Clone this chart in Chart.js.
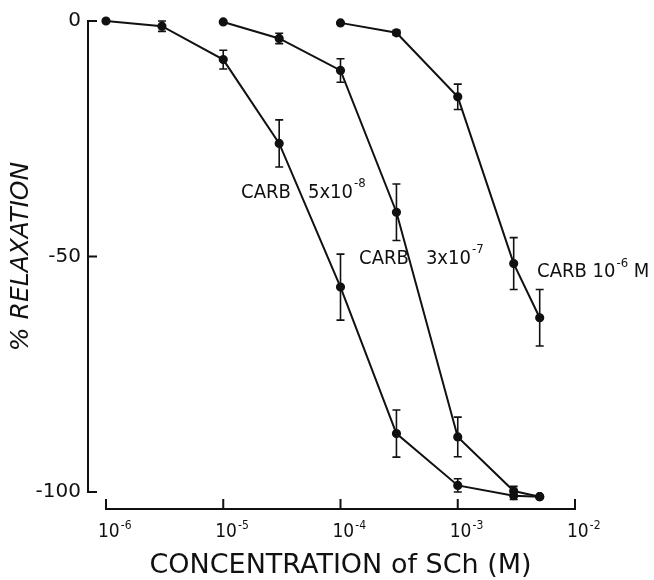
<!DOCTYPE html>
<html>
<head>
<meta charset="utf-8">
<script src="https://cdn.jsdelivr.net/npm/chart.js@4/dist/chart.umd.min.js"></script>
<style>
    html, body { margin: 0; padding: 0; background: #fff; }
    #wrap { width: 654px; height: 580px; position: relative; }
</style>
</head>
<body>
<div id="wrap"><canvas id="chart"></canvas></div>
<script>
// Concentration of SCh (M) and % relaxation, one set per CARB level
const conc1 = [1e-6, 3e-6, 1e-5, 3e-5, 1e-4, 3e-4, 1e-3, 3e-3, 5e-3];
const relax1 = [0, -1.1, -8.2, -26, -56.5, -87.6, -98.6, -100.8, -101];
const err1 = [0, 1.1, 2, 5, 7, 5, 1.4, 0.8, 0];

const conc2 = [1e-5, 3e-5, 1e-4, 3e-4, 1e-3, 3e-3, 5e-3];
const relax2 = [-0.2, -3.7, -10.5, -40.6, -88.3, -99.8, -101];
const err2 = [0, 1.1, 2.5, 6, 4.2, 1, 0];

const conc3 = [1e-4, 3e-4, 1e-3, 3e-3, 5e-3];
const relax3 = [-0.4, -2.5, -16.1, -51.5, -63];
const err3 = [0, 0.5, 2.7, 5.5, 6];

const xTicks = [1e-6, 1e-5, 1e-4, 1e-3, 1e-2];
const yTicks = [0, -50, -100];
// [text, superscript, tail]
const notes = [['CARB   5x10', '-8', ''], ['CARB   3x10', '-7', ''], ['CARB 10', '-6', ' M']];

const INK = '#111';
const FONT = "'DejaVu Sans', sans-serif";
const COND = "'DejaVu Sans Condensed', 'DejaVu Sans', sans-serif";

function toPoints(xs, ys) {
    return xs.map((x, i) => ({ x: x, y: ys[i] }));
}

function makeSet(xs, ys, errs) {
    return {
        data: toPoints(xs, ys),
        errs: errs,
        borderColor: INK,
        backgroundColor: INK,
        borderWidth: 2,
        pointRadius: 3.6,
        pointHoverRadius: 3.6,
        tension: 0,
        clip: false
    };
}

// draw text with a raised small part
function supText(ctx, x, y, base, sup, tail, size) {
    ctx.font = size + 'px ' + COND;
    ctx.fillText(base, x, y);
    x += ctx.measureText(base).width + 1;
    ctx.font = Math.round(size * 0.65) + 'px ' + COND;
    ctx.fillText(sup, x, y - size * 0.42);
    x += ctx.measureText(sup).width;
    if (tail) {
        ctx.font = size + 'px ' + COND;
        ctx.fillText(tail, x, y);
    }
}

const paperPlugin = {
    id: 'paper',
    afterDatasetsDraw(chart) {
        const ctx = chart.ctx;
        const xs = chart.scales.x;
        const ys = chart.scales.y;
        ctx.save();
        ctx.strokeStyle = INK;
        ctx.fillStyle = INK;

        // error bars
        ctx.lineWidth = 1.6;
        chart.data.datasets.forEach(ds => {
            ds.data.forEach((p, i) => {
                const e = ds.errs[i];
                if (!e) return;
                const px = xs.getPixelForValue(p.x);
                const y1 = ys.getPixelForValue(p.y + e);
                const y2 = ys.getPixelForValue(p.y - e);
                ctx.beginPath();
                ctx.moveTo(px, y1); ctx.lineTo(px, y2);
                ctx.moveTo(px - 4, y1); ctx.lineTo(px + 4, y1);
                ctx.moveTo(px - 4, y2); ctx.lineTo(px + 4, y2);
                ctx.stroke();
            });
        });

        // detached axes like the original figure
        ctx.lineWidth = 2;
        const axX = xs.left - 18;
        const axY = ys.bottom + 17;
        ctx.beginPath();
        ctx.moveTo(axX, ys.getPixelForValue(0));
        ctx.lineTo(axX, ys.getPixelForValue(-100));
        yTicks.forEach(v => {
            const py = ys.getPixelForValue(v);
            ctx.moveTo(axX - 1, py); ctx.lineTo(axX + 9, py);
        });
        ctx.moveTo(xs.getPixelForValue(1e-6), axY);
        ctx.lineTo(xs.getPixelForValue(1e-2), axY);
        xs.ticks.forEach(t => {
            const px = xs.getPixelForValue(t.value);
            ctx.moveTo(px, axY + 1); ctx.lineTo(px, axY - 10);
        });
        ctx.stroke();

        // x tick labels 10^-n
        ctx.textBaseline = 'alphabetic';
        ctx.textAlign = 'left';
        xs.ticks.forEach(t => {
            const px = xs.getPixelForValue(t.value);
            const n = Math.round(Math.log10(t.value));
            supText(ctx, px - 8, axY + 28, '10', String(n), '', 19);
        });

        // curve labels
        const anchors = [[1.42e-5, -36.4], [1.44e-4, -50.4], [4.75e-3, -53.3]];
        ctx.textBaseline = 'middle';
        notes.forEach((n, i) => {
            const px = xs.getPixelForValue(anchors[i][0]);
            const py = ys.getPixelForValue(anchors[i][1]);
            supText(ctx, px, py, n[0], n[1], n[2], 20);
        });
        ctx.restore();
    }
};

new Chart(document.getElementById('chart'), {
    type: 'line',
    data: {
        datasets: [makeSet(conc1, relax1, err1), makeSet(conc2, relax2, err2), makeSet(conc3, relax3, err3)]
    },
    options: {
        responsive: true,
        maintainAspectRatio: false,
        animation: false,
        events: [],
        layout: { padding: { top: 21, right: 79, left: 0, bottom: 0 }, autoPadding: false },
        plugins: {
            legend: { display: false },
            tooltip: { enabled: false }
        },
        scales: {
            x: {
                type: 'logarithmic',
                min: 1e-6,
                max: 1e-2,
                afterBuildTicks: s => { s.ticks = xTicks.map(v => ({ value: v })); },
                afterFit: s => { s.height = 88; s.paddingLeft = 0; s.paddingRight = 0; },
                grid: { display: false, drawTicks: false },
                border: { display: false },
                ticks: { display: false },
                title: {
                    display: true,
                    text: 'CONCENTRATION of SCh (M)',
                    color: INK,
                    font: { family: FONT, size: 27, lineHeight: 1 },
                    padding: { top: 0, bottom: 1 }
                }
            },
            y: {
                min: -100,
                max: 0,
                afterBuildTicks: s => { s.ticks = yTicks.map(v => ({ value: v })); },
                afterFit: s => { s.width = 106; s.paddingTop = 0; s.paddingBottom = 0; },
                grid: { display: false, drawTicks: false },
                border: { display: false },
                ticks: {
                    color: INK,
                    padding: 25,
                    font: { family: FONT, size: 20 },
                    callback: v => String(v)
                },
                title: {
                    display: true,
                    text: '% RELAXATION',
                    color: INK,
                    font: { family: FONT, size: 25, style: 'italic', lineHeight: 1 },
                    padding: { top: 9, bottom: 0 }
                }
            }
        }
    },
    plugins: [paperPlugin]
});
</script>
</body>
</html>
